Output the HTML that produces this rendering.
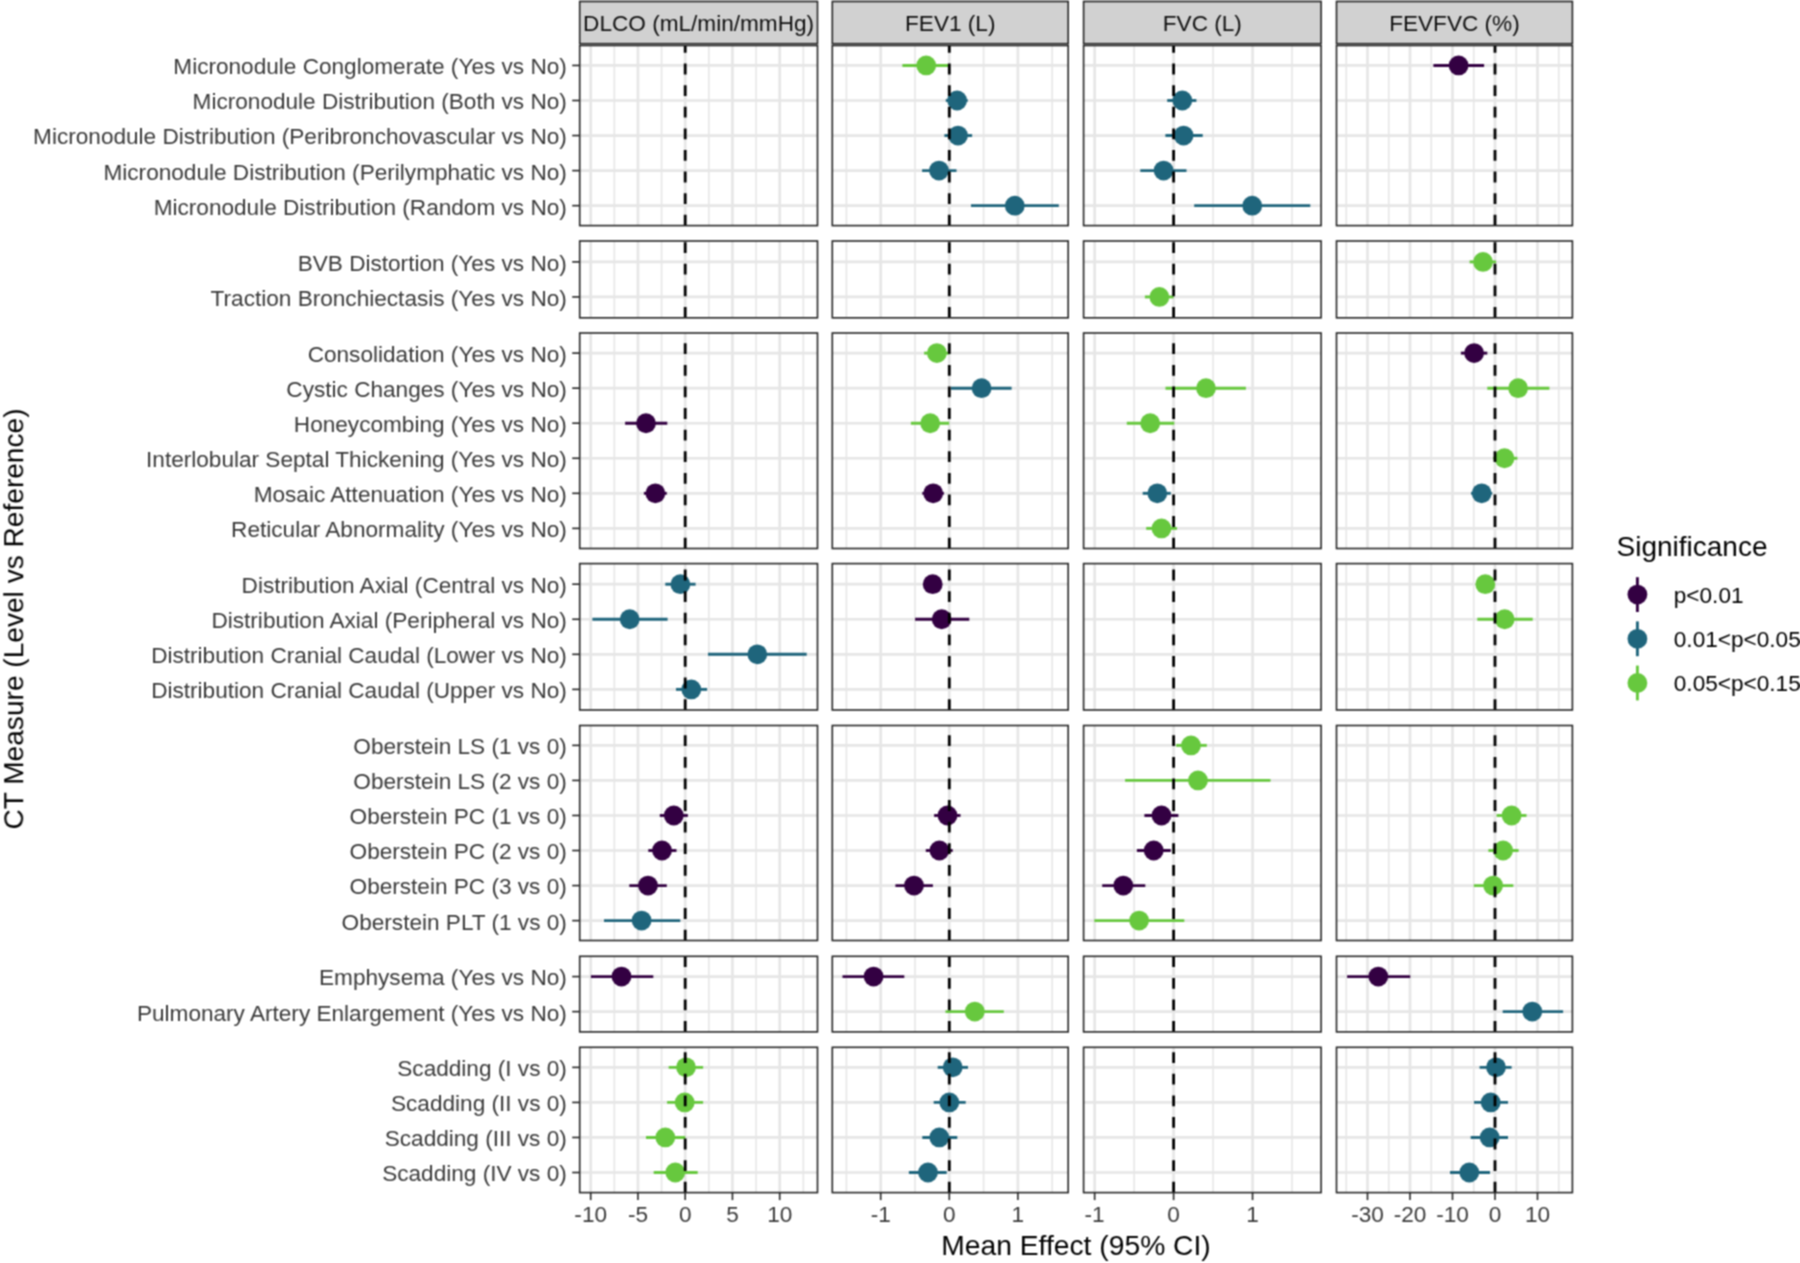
<!DOCTYPE html>
<html><head><meta charset="utf-8"><title>CT Measure forest plot</title>
<style>
html,body{margin:0;padding:0;background:#fff;overflow:hidden;}
svg{display:block;}
text{font-family:"Liberation Sans",Arial,Helvetica,sans-serif;}
</style></head><body>
<div id="plot">
<svg width="1800" height="1263" viewBox="0 0 1800 1263">
<defs><filter id="soft" x="0" y="0" width="1800" height="1263" filterUnits="userSpaceOnUse" color-interpolation-filters="sRGB"><feConvolveMatrix order="3" kernelMatrix="1 2 1 2 4 2 1 2 1" edgeMode="duplicate"/></filter></defs>
<g filter="url(#soft)">
<rect x="0" y="0" width="1800" height="1263" fill="#fff"/>
<rect x="579.7" y="1.5" width="237.8" height="42.2" fill="#d1d1d1" stroke="#262626" stroke-width="1.6"/>
<text x="698.6" y="31.2" font-size="22.6" fill="#0f0f0f" text-anchor="middle">DLCO (mL/min/mmHg)</text>
<rect x="832.3" y="1.5" width="235.9" height="42.2" fill="#d1d1d1" stroke="#262626" stroke-width="1.6"/>
<text x="950.25" y="31.2" font-size="22.6" fill="#0f0f0f" text-anchor="middle">FEV1 (L)</text>
<rect x="1083.6" y="1.5" width="237.5" height="42.2" fill="#d1d1d1" stroke="#262626" stroke-width="1.6"/>
<text x="1202.35" y="31.2" font-size="22.6" fill="#0f0f0f" text-anchor="middle">FVC (L)</text>
<rect x="1336.5" y="1.5" width="235.9" height="42.2" fill="#d1d1d1" stroke="#262626" stroke-width="1.6"/>
<text x="1454.45" y="31.2" font-size="22.6" fill="#0f0f0f" text-anchor="middle">FEVFVC (%)</text>
<rect x="579.7" y="45.5" width="237.8" height="180.1" fill="#fff"/>
<line x1="614.33" y1="45.5" x2="614.33" y2="225.6" stroke="#e6e6e6" stroke-width="1.6"/>
<line x1="661.58" y1="45.5" x2="661.58" y2="225.6" stroke="#e6e6e6" stroke-width="1.6"/>
<line x1="708.83" y1="45.5" x2="708.83" y2="225.6" stroke="#e6e6e6" stroke-width="1.6"/>
<line x1="756.08" y1="45.5" x2="756.08" y2="225.6" stroke="#e6e6e6" stroke-width="1.6"/>
<line x1="803.33" y1="45.5" x2="803.33" y2="225.6" stroke="#e6e6e6" stroke-width="1.6"/>
<line x1="579.7" y1="65.45" x2="817.5" y2="65.45" stroke="#e6e6e6" stroke-width="2.7"/>
<line x1="579.7" y1="100.5" x2="817.5" y2="100.5" stroke="#e6e6e6" stroke-width="2.7"/>
<line x1="579.7" y1="135.55" x2="817.5" y2="135.55" stroke="#e6e6e6" stroke-width="2.7"/>
<line x1="579.7" y1="170.6" x2="817.5" y2="170.6" stroke="#e6e6e6" stroke-width="2.7"/>
<line x1="579.7" y1="205.65" x2="817.5" y2="205.65" stroke="#e6e6e6" stroke-width="2.7"/>
<line x1="590.7" y1="45.5" x2="590.7" y2="225.6" stroke="#e6e6e6" stroke-width="2.7"/>
<line x1="637.95" y1="45.5" x2="637.95" y2="225.6" stroke="#e6e6e6" stroke-width="2.7"/>
<line x1="685.2" y1="45.5" x2="685.2" y2="225.6" stroke="#e6e6e6" stroke-width="2.7"/>
<line x1="732.45" y1="45.5" x2="732.45" y2="225.6" stroke="#e6e6e6" stroke-width="2.7"/>
<line x1="779.7" y1="45.5" x2="779.7" y2="225.6" stroke="#e6e6e6" stroke-width="2.7"/>
<line x1="685.2" y1="225.6" x2="685.2" y2="45.5" stroke="#000" stroke-width="2.8" stroke-dasharray="10.8 10.8"/>
<rect x="579.7" y="45.5" width="237.8" height="180.1" fill="none" stroke="#262626" stroke-width="1.6"/>
<rect x="832.3" y="45.5" width="235.9" height="180.1" fill="#fff"/>
<line x1="846.4" y1="45.5" x2="846.4" y2="225.6" stroke="#e6e6e6" stroke-width="1.6"/>
<line x1="915" y1="45.5" x2="915" y2="225.6" stroke="#e6e6e6" stroke-width="1.6"/>
<line x1="983.6" y1="45.5" x2="983.6" y2="225.6" stroke="#e6e6e6" stroke-width="1.6"/>
<line x1="1052.2" y1="45.5" x2="1052.2" y2="225.6" stroke="#e6e6e6" stroke-width="1.6"/>
<line x1="832.3" y1="65.45" x2="1068.2" y2="65.45" stroke="#e6e6e6" stroke-width="2.7"/>
<line x1="832.3" y1="100.5" x2="1068.2" y2="100.5" stroke="#e6e6e6" stroke-width="2.7"/>
<line x1="832.3" y1="135.55" x2="1068.2" y2="135.55" stroke="#e6e6e6" stroke-width="2.7"/>
<line x1="832.3" y1="170.6" x2="1068.2" y2="170.6" stroke="#e6e6e6" stroke-width="2.7"/>
<line x1="832.3" y1="205.65" x2="1068.2" y2="205.65" stroke="#e6e6e6" stroke-width="2.7"/>
<line x1="880.7" y1="45.5" x2="880.7" y2="225.6" stroke="#e6e6e6" stroke-width="2.7"/>
<line x1="949.3" y1="45.5" x2="949.3" y2="225.6" stroke="#e6e6e6" stroke-width="2.7"/>
<line x1="1017.9" y1="45.5" x2="1017.9" y2="225.6" stroke="#e6e6e6" stroke-width="2.7"/>
<line x1="902.4" y1="65.45" x2="949.5" y2="65.45" stroke="#67c83e" stroke-width="2.9"/>
<line x1="945.8" y1="100.5" x2="967.7" y2="100.5" stroke="#1f657c" stroke-width="2.9"/>
<line x1="944.4" y1="135.55" x2="972.1" y2="135.55" stroke="#1f657c" stroke-width="2.9"/>
<line x1="922.1" y1="170.6" x2="956.5" y2="170.6" stroke="#1f657c" stroke-width="2.9"/>
<line x1="971" y1="205.65" x2="1058.8" y2="205.65" stroke="#1f657c" stroke-width="2.9"/>
<circle cx="926.2" cy="65.45" r="9.9" fill="#67c83e"/>
<circle cx="957.1" cy="100.5" r="9.9" fill="#1f657c"/>
<circle cx="958" cy="135.55" r="9.9" fill="#1f657c"/>
<circle cx="939" cy="170.6" r="9.9" fill="#1f657c"/>
<circle cx="1014.8" cy="205.65" r="9.9" fill="#1f657c"/>
<line x1="949.3" y1="225.6" x2="949.3" y2="45.5" stroke="#000" stroke-width="2.8" stroke-dasharray="10.8 10.8"/>
<rect x="832.3" y="45.5" width="235.9" height="180.1" fill="none" stroke="#262626" stroke-width="1.6"/>
<rect x="1083.6" y="45.5" width="237.5" height="180.1" fill="#fff"/>
<line x1="1134.12" y1="45.5" x2="1134.12" y2="225.6" stroke="#e6e6e6" stroke-width="1.6"/>
<line x1="1213.07" y1="45.5" x2="1213.07" y2="225.6" stroke="#e6e6e6" stroke-width="1.6"/>
<line x1="1292.02" y1="45.5" x2="1292.02" y2="225.6" stroke="#e6e6e6" stroke-width="1.6"/>
<line x1="1083.6" y1="65.45" x2="1321.1" y2="65.45" stroke="#e6e6e6" stroke-width="2.7"/>
<line x1="1083.6" y1="100.5" x2="1321.1" y2="100.5" stroke="#e6e6e6" stroke-width="2.7"/>
<line x1="1083.6" y1="135.55" x2="1321.1" y2="135.55" stroke="#e6e6e6" stroke-width="2.7"/>
<line x1="1083.6" y1="170.6" x2="1321.1" y2="170.6" stroke="#e6e6e6" stroke-width="2.7"/>
<line x1="1083.6" y1="205.65" x2="1321.1" y2="205.65" stroke="#e6e6e6" stroke-width="2.7"/>
<line x1="1094.65" y1="45.5" x2="1094.65" y2="225.6" stroke="#e6e6e6" stroke-width="2.7"/>
<line x1="1173.6" y1="45.5" x2="1173.6" y2="225.6" stroke="#e6e6e6" stroke-width="2.7"/>
<line x1="1252.55" y1="45.5" x2="1252.55" y2="225.6" stroke="#e6e6e6" stroke-width="2.7"/>
<line x1="1167.2" y1="100.5" x2="1196.4" y2="100.5" stroke="#1f657c" stroke-width="2.9"/>
<line x1="1165.4" y1="135.55" x2="1202.7" y2="135.55" stroke="#1f657c" stroke-width="2.9"/>
<line x1="1140.3" y1="170.6" x2="1186.5" y2="170.6" stroke="#1f657c" stroke-width="2.9"/>
<line x1="1194.2" y1="205.65" x2="1310.3" y2="205.65" stroke="#1f657c" stroke-width="2.9"/>
<circle cx="1182.3" cy="100.5" r="9.9" fill="#1f657c"/>
<circle cx="1183.6" cy="135.55" r="9.9" fill="#1f657c"/>
<circle cx="1163.6" cy="170.6" r="9.9" fill="#1f657c"/>
<circle cx="1252.2" cy="205.65" r="9.9" fill="#1f657c"/>
<line x1="1173.6" y1="225.6" x2="1173.6" y2="45.5" stroke="#000" stroke-width="2.8" stroke-dasharray="10.8 10.8"/>
<rect x="1083.6" y="45.5" width="237.5" height="180.1" fill="none" stroke="#262626" stroke-width="1.6"/>
<rect x="1336.5" y="45.5" width="235.9" height="180.1" fill="#fff"/>
<line x1="1346.25" y1="45.5" x2="1346.25" y2="225.6" stroke="#e6e6e6" stroke-width="1.6"/>
<line x1="1388.75" y1="45.5" x2="1388.75" y2="225.6" stroke="#e6e6e6" stroke-width="1.6"/>
<line x1="1431.25" y1="45.5" x2="1431.25" y2="225.6" stroke="#e6e6e6" stroke-width="1.6"/>
<line x1="1473.75" y1="45.5" x2="1473.75" y2="225.6" stroke="#e6e6e6" stroke-width="1.6"/>
<line x1="1516.25" y1="45.5" x2="1516.25" y2="225.6" stroke="#e6e6e6" stroke-width="1.6"/>
<line x1="1558.75" y1="45.5" x2="1558.75" y2="225.6" stroke="#e6e6e6" stroke-width="1.6"/>
<line x1="1336.5" y1="65.45" x2="1572.4" y2="65.45" stroke="#e6e6e6" stroke-width="2.7"/>
<line x1="1336.5" y1="100.5" x2="1572.4" y2="100.5" stroke="#e6e6e6" stroke-width="2.7"/>
<line x1="1336.5" y1="135.55" x2="1572.4" y2="135.55" stroke="#e6e6e6" stroke-width="2.7"/>
<line x1="1336.5" y1="170.6" x2="1572.4" y2="170.6" stroke="#e6e6e6" stroke-width="2.7"/>
<line x1="1336.5" y1="205.65" x2="1572.4" y2="205.65" stroke="#e6e6e6" stroke-width="2.7"/>
<line x1="1367.5" y1="45.5" x2="1367.5" y2="225.6" stroke="#e6e6e6" stroke-width="2.7"/>
<line x1="1410" y1="45.5" x2="1410" y2="225.6" stroke="#e6e6e6" stroke-width="2.7"/>
<line x1="1452.5" y1="45.5" x2="1452.5" y2="225.6" stroke="#e6e6e6" stroke-width="2.7"/>
<line x1="1495" y1="45.5" x2="1495" y2="225.6" stroke="#e6e6e6" stroke-width="2.7"/>
<line x1="1537.5" y1="45.5" x2="1537.5" y2="225.6" stroke="#e6e6e6" stroke-width="2.7"/>
<line x1="1433.4" y1="65.45" x2="1484.1" y2="65.45" stroke="#330042" stroke-width="2.9"/>
<circle cx="1458.6" cy="65.45" r="9.9" fill="#330042"/>
<line x1="1495" y1="225.6" x2="1495" y2="45.5" stroke="#000" stroke-width="2.8" stroke-dasharray="10.8 10.8"/>
<rect x="1336.5" y="45.5" width="235.9" height="180.1" fill="none" stroke="#262626" stroke-width="1.6"/>
<line x1="572.2" y1="65.45" x2="579.7" y2="65.45" stroke="#262626" stroke-width="1.6"/>
<text x="566.8" y="74.35" font-size="22.6" fill="#3a3a3a" text-anchor="end">Micronodule Conglomerate (Yes vs No)</text>
<line x1="572.2" y1="100.5" x2="579.7" y2="100.5" stroke="#262626" stroke-width="1.6"/>
<text x="566.8" y="109.4" font-size="22.6" fill="#3a3a3a" text-anchor="end">Micronodule Distribution (Both vs No)</text>
<line x1="572.2" y1="135.55" x2="579.7" y2="135.55" stroke="#262626" stroke-width="1.6"/>
<text x="566.8" y="144.45" font-size="22.6" fill="#3a3a3a" text-anchor="end">Micronodule Distribution (Peribronchovascular vs No)</text>
<line x1="572.2" y1="170.6" x2="579.7" y2="170.6" stroke="#262626" stroke-width="1.6"/>
<text x="566.8" y="179.5" font-size="22.6" fill="#3a3a3a" text-anchor="end">Micronodule Distribution (Perilymphatic vs No)</text>
<line x1="572.2" y1="205.65" x2="579.7" y2="205.65" stroke="#262626" stroke-width="1.6"/>
<text x="566.8" y="214.55" font-size="22.6" fill="#3a3a3a" text-anchor="end">Micronodule Distribution (Random vs No)</text>
<rect x="579.7" y="241" width="237.8" height="76.8" fill="#fff"/>
<line x1="614.33" y1="241" x2="614.33" y2="317.8" stroke="#e6e6e6" stroke-width="1.6"/>
<line x1="661.58" y1="241" x2="661.58" y2="317.8" stroke="#e6e6e6" stroke-width="1.6"/>
<line x1="708.83" y1="241" x2="708.83" y2="317.8" stroke="#e6e6e6" stroke-width="1.6"/>
<line x1="756.08" y1="241" x2="756.08" y2="317.8" stroke="#e6e6e6" stroke-width="1.6"/>
<line x1="803.33" y1="241" x2="803.33" y2="317.8" stroke="#e6e6e6" stroke-width="1.6"/>
<line x1="579.7" y1="261.88" x2="817.5" y2="261.88" stroke="#e6e6e6" stroke-width="2.7"/>
<line x1="579.7" y1="296.92" x2="817.5" y2="296.92" stroke="#e6e6e6" stroke-width="2.7"/>
<line x1="590.7" y1="241" x2="590.7" y2="317.8" stroke="#e6e6e6" stroke-width="2.7"/>
<line x1="637.95" y1="241" x2="637.95" y2="317.8" stroke="#e6e6e6" stroke-width="2.7"/>
<line x1="685.2" y1="241" x2="685.2" y2="317.8" stroke="#e6e6e6" stroke-width="2.7"/>
<line x1="732.45" y1="241" x2="732.45" y2="317.8" stroke="#e6e6e6" stroke-width="2.7"/>
<line x1="779.7" y1="241" x2="779.7" y2="317.8" stroke="#e6e6e6" stroke-width="2.7"/>
<line x1="685.2" y1="317.8" x2="685.2" y2="241" stroke="#000" stroke-width="2.8" stroke-dasharray="10.8 10.8"/>
<rect x="579.7" y="241" width="237.8" height="76.8" fill="none" stroke="#262626" stroke-width="1.6"/>
<rect x="832.3" y="241" width="235.9" height="76.8" fill="#fff"/>
<line x1="846.4" y1="241" x2="846.4" y2="317.8" stroke="#e6e6e6" stroke-width="1.6"/>
<line x1="915" y1="241" x2="915" y2="317.8" stroke="#e6e6e6" stroke-width="1.6"/>
<line x1="983.6" y1="241" x2="983.6" y2="317.8" stroke="#e6e6e6" stroke-width="1.6"/>
<line x1="1052.2" y1="241" x2="1052.2" y2="317.8" stroke="#e6e6e6" stroke-width="1.6"/>
<line x1="832.3" y1="261.88" x2="1068.2" y2="261.88" stroke="#e6e6e6" stroke-width="2.7"/>
<line x1="832.3" y1="296.92" x2="1068.2" y2="296.92" stroke="#e6e6e6" stroke-width="2.7"/>
<line x1="880.7" y1="241" x2="880.7" y2="317.8" stroke="#e6e6e6" stroke-width="2.7"/>
<line x1="949.3" y1="241" x2="949.3" y2="317.8" stroke="#e6e6e6" stroke-width="2.7"/>
<line x1="1017.9" y1="241" x2="1017.9" y2="317.8" stroke="#e6e6e6" stroke-width="2.7"/>
<line x1="949.3" y1="317.8" x2="949.3" y2="241" stroke="#000" stroke-width="2.8" stroke-dasharray="10.8 10.8"/>
<rect x="832.3" y="241" width="235.9" height="76.8" fill="none" stroke="#262626" stroke-width="1.6"/>
<rect x="1083.6" y="241" width="237.5" height="76.8" fill="#fff"/>
<line x1="1134.12" y1="241" x2="1134.12" y2="317.8" stroke="#e6e6e6" stroke-width="1.6"/>
<line x1="1213.07" y1="241" x2="1213.07" y2="317.8" stroke="#e6e6e6" stroke-width="1.6"/>
<line x1="1292.02" y1="241" x2="1292.02" y2="317.8" stroke="#e6e6e6" stroke-width="1.6"/>
<line x1="1083.6" y1="261.88" x2="1321.1" y2="261.88" stroke="#e6e6e6" stroke-width="2.7"/>
<line x1="1083.6" y1="296.92" x2="1321.1" y2="296.92" stroke="#e6e6e6" stroke-width="2.7"/>
<line x1="1094.65" y1="241" x2="1094.65" y2="317.8" stroke="#e6e6e6" stroke-width="2.7"/>
<line x1="1173.6" y1="241" x2="1173.6" y2="317.8" stroke="#e6e6e6" stroke-width="2.7"/>
<line x1="1252.55" y1="241" x2="1252.55" y2="317.8" stroke="#e6e6e6" stroke-width="2.7"/>
<line x1="1144.9" y1="296.92" x2="1173.6" y2="296.92" stroke="#67c83e" stroke-width="2.9"/>
<circle cx="1159.4" cy="296.92" r="9.9" fill="#67c83e"/>
<line x1="1173.6" y1="317.8" x2="1173.6" y2="241" stroke="#000" stroke-width="2.8" stroke-dasharray="10.8 10.8"/>
<rect x="1083.6" y="241" width="237.5" height="76.8" fill="none" stroke="#262626" stroke-width="1.6"/>
<rect x="1336.5" y="241" width="235.9" height="76.8" fill="#fff"/>
<line x1="1346.25" y1="241" x2="1346.25" y2="317.8" stroke="#e6e6e6" stroke-width="1.6"/>
<line x1="1388.75" y1="241" x2="1388.75" y2="317.8" stroke="#e6e6e6" stroke-width="1.6"/>
<line x1="1431.25" y1="241" x2="1431.25" y2="317.8" stroke="#e6e6e6" stroke-width="1.6"/>
<line x1="1473.75" y1="241" x2="1473.75" y2="317.8" stroke="#e6e6e6" stroke-width="1.6"/>
<line x1="1516.25" y1="241" x2="1516.25" y2="317.8" stroke="#e6e6e6" stroke-width="1.6"/>
<line x1="1558.75" y1="241" x2="1558.75" y2="317.8" stroke="#e6e6e6" stroke-width="1.6"/>
<line x1="1336.5" y1="261.88" x2="1572.4" y2="261.88" stroke="#e6e6e6" stroke-width="2.7"/>
<line x1="1336.5" y1="296.92" x2="1572.4" y2="296.92" stroke="#e6e6e6" stroke-width="2.7"/>
<line x1="1367.5" y1="241" x2="1367.5" y2="317.8" stroke="#e6e6e6" stroke-width="2.7"/>
<line x1="1410" y1="241" x2="1410" y2="317.8" stroke="#e6e6e6" stroke-width="2.7"/>
<line x1="1452.5" y1="241" x2="1452.5" y2="317.8" stroke="#e6e6e6" stroke-width="2.7"/>
<line x1="1495" y1="241" x2="1495" y2="317.8" stroke="#e6e6e6" stroke-width="2.7"/>
<line x1="1537.5" y1="241" x2="1537.5" y2="317.8" stroke="#e6e6e6" stroke-width="2.7"/>
<line x1="1469.6" y1="261.88" x2="1496.1" y2="261.88" stroke="#67c83e" stroke-width="2.9"/>
<circle cx="1483" cy="261.88" r="9.9" fill="#67c83e"/>
<line x1="1495" y1="317.8" x2="1495" y2="241" stroke="#000" stroke-width="2.8" stroke-dasharray="10.8 10.8"/>
<rect x="1336.5" y="241" width="235.9" height="76.8" fill="none" stroke="#262626" stroke-width="1.6"/>
<line x1="572.2" y1="261.88" x2="579.7" y2="261.88" stroke="#262626" stroke-width="1.6"/>
<text x="566.8" y="270.77" font-size="22.6" fill="#3a3a3a" text-anchor="end">BVB Distortion (Yes vs No)</text>
<line x1="572.2" y1="296.92" x2="579.7" y2="296.92" stroke="#262626" stroke-width="1.6"/>
<text x="566.8" y="305.82" font-size="22.6" fill="#3a3a3a" text-anchor="end">Traction Bronchiectasis (Yes vs No)</text>
<rect x="579.7" y="333" width="237.8" height="215.5" fill="#fff"/>
<line x1="614.33" y1="333" x2="614.33" y2="548.5" stroke="#e6e6e6" stroke-width="1.6"/>
<line x1="661.58" y1="333" x2="661.58" y2="548.5" stroke="#e6e6e6" stroke-width="1.6"/>
<line x1="708.83" y1="333" x2="708.83" y2="548.5" stroke="#e6e6e6" stroke-width="1.6"/>
<line x1="756.08" y1="333" x2="756.08" y2="548.5" stroke="#e6e6e6" stroke-width="1.6"/>
<line x1="803.33" y1="333" x2="803.33" y2="548.5" stroke="#e6e6e6" stroke-width="1.6"/>
<line x1="579.7" y1="353.12" x2="817.5" y2="353.12" stroke="#e6e6e6" stroke-width="2.7"/>
<line x1="579.7" y1="388.18" x2="817.5" y2="388.18" stroke="#e6e6e6" stroke-width="2.7"/>
<line x1="579.7" y1="423.23" x2="817.5" y2="423.23" stroke="#e6e6e6" stroke-width="2.7"/>
<line x1="579.7" y1="458.27" x2="817.5" y2="458.27" stroke="#e6e6e6" stroke-width="2.7"/>
<line x1="579.7" y1="493.32" x2="817.5" y2="493.32" stroke="#e6e6e6" stroke-width="2.7"/>
<line x1="579.7" y1="528.38" x2="817.5" y2="528.38" stroke="#e6e6e6" stroke-width="2.7"/>
<line x1="590.7" y1="333" x2="590.7" y2="548.5" stroke="#e6e6e6" stroke-width="2.7"/>
<line x1="637.95" y1="333" x2="637.95" y2="548.5" stroke="#e6e6e6" stroke-width="2.7"/>
<line x1="685.2" y1="333" x2="685.2" y2="548.5" stroke="#e6e6e6" stroke-width="2.7"/>
<line x1="732.45" y1="333" x2="732.45" y2="548.5" stroke="#e6e6e6" stroke-width="2.7"/>
<line x1="779.7" y1="333" x2="779.7" y2="548.5" stroke="#e6e6e6" stroke-width="2.7"/>
<line x1="625.1" y1="423.23" x2="667.3" y2="423.23" stroke="#330042" stroke-width="2.9"/>
<line x1="643.9" y1="493.32" x2="666.8" y2="493.32" stroke="#330042" stroke-width="2.9"/>
<circle cx="646" cy="423.23" r="9.9" fill="#330042"/>
<circle cx="655.4" cy="493.32" r="9.9" fill="#330042"/>
<line x1="685.2" y1="548.5" x2="685.2" y2="333" stroke="#000" stroke-width="2.8" stroke-dasharray="10.8 10.8"/>
<rect x="579.7" y="333" width="237.8" height="215.5" fill="none" stroke="#262626" stroke-width="1.6"/>
<rect x="832.3" y="333" width="235.9" height="215.5" fill="#fff"/>
<line x1="846.4" y1="333" x2="846.4" y2="548.5" stroke="#e6e6e6" stroke-width="1.6"/>
<line x1="915" y1="333" x2="915" y2="548.5" stroke="#e6e6e6" stroke-width="1.6"/>
<line x1="983.6" y1="333" x2="983.6" y2="548.5" stroke="#e6e6e6" stroke-width="1.6"/>
<line x1="1052.2" y1="333" x2="1052.2" y2="548.5" stroke="#e6e6e6" stroke-width="1.6"/>
<line x1="832.3" y1="353.12" x2="1068.2" y2="353.12" stroke="#e6e6e6" stroke-width="2.7"/>
<line x1="832.3" y1="388.18" x2="1068.2" y2="388.18" stroke="#e6e6e6" stroke-width="2.7"/>
<line x1="832.3" y1="423.23" x2="1068.2" y2="423.23" stroke="#e6e6e6" stroke-width="2.7"/>
<line x1="832.3" y1="458.27" x2="1068.2" y2="458.27" stroke="#e6e6e6" stroke-width="2.7"/>
<line x1="832.3" y1="493.32" x2="1068.2" y2="493.32" stroke="#e6e6e6" stroke-width="2.7"/>
<line x1="832.3" y1="528.38" x2="1068.2" y2="528.38" stroke="#e6e6e6" stroke-width="2.7"/>
<line x1="880.7" y1="333" x2="880.7" y2="548.5" stroke="#e6e6e6" stroke-width="2.7"/>
<line x1="949.3" y1="333" x2="949.3" y2="548.5" stroke="#e6e6e6" stroke-width="2.7"/>
<line x1="1017.9" y1="333" x2="1017.9" y2="548.5" stroke="#e6e6e6" stroke-width="2.7"/>
<line x1="924.1" y1="353.12" x2="949.6" y2="353.12" stroke="#67c83e" stroke-width="2.9"/>
<line x1="951" y1="388.18" x2="1011.6" y2="388.18" stroke="#1f657c" stroke-width="2.9"/>
<line x1="910.9" y1="423.23" x2="949.2" y2="423.23" stroke="#67c83e" stroke-width="2.9"/>
<line x1="922.3" y1="493.32" x2="943.9" y2="493.32" stroke="#330042" stroke-width="2.9"/>
<circle cx="936.9" cy="353.12" r="9.9" fill="#67c83e"/>
<circle cx="981.6" cy="388.18" r="9.9" fill="#1f657c"/>
<circle cx="930.2" cy="423.23" r="9.9" fill="#67c83e"/>
<circle cx="933.2" cy="493.32" r="9.9" fill="#330042"/>
<line x1="949.3" y1="548.5" x2="949.3" y2="333" stroke="#000" stroke-width="2.8" stroke-dasharray="10.8 10.8"/>
<rect x="832.3" y="333" width="235.9" height="215.5" fill="none" stroke="#262626" stroke-width="1.6"/>
<rect x="1083.6" y="333" width="237.5" height="215.5" fill="#fff"/>
<line x1="1134.12" y1="333" x2="1134.12" y2="548.5" stroke="#e6e6e6" stroke-width="1.6"/>
<line x1="1213.07" y1="333" x2="1213.07" y2="548.5" stroke="#e6e6e6" stroke-width="1.6"/>
<line x1="1292.02" y1="333" x2="1292.02" y2="548.5" stroke="#e6e6e6" stroke-width="1.6"/>
<line x1="1083.6" y1="353.12" x2="1321.1" y2="353.12" stroke="#e6e6e6" stroke-width="2.7"/>
<line x1="1083.6" y1="388.18" x2="1321.1" y2="388.18" stroke="#e6e6e6" stroke-width="2.7"/>
<line x1="1083.6" y1="423.23" x2="1321.1" y2="423.23" stroke="#e6e6e6" stroke-width="2.7"/>
<line x1="1083.6" y1="458.27" x2="1321.1" y2="458.27" stroke="#e6e6e6" stroke-width="2.7"/>
<line x1="1083.6" y1="493.32" x2="1321.1" y2="493.32" stroke="#e6e6e6" stroke-width="2.7"/>
<line x1="1083.6" y1="528.38" x2="1321.1" y2="528.38" stroke="#e6e6e6" stroke-width="2.7"/>
<line x1="1094.65" y1="333" x2="1094.65" y2="548.5" stroke="#e6e6e6" stroke-width="2.7"/>
<line x1="1173.6" y1="333" x2="1173.6" y2="548.5" stroke="#e6e6e6" stroke-width="2.7"/>
<line x1="1252.55" y1="333" x2="1252.55" y2="548.5" stroke="#e6e6e6" stroke-width="2.7"/>
<line x1="1165.5" y1="388.18" x2="1245.9" y2="388.18" stroke="#67c83e" stroke-width="2.9"/>
<line x1="1126.8" y1="423.23" x2="1174.3" y2="423.23" stroke="#67c83e" stroke-width="2.9"/>
<line x1="1142.7" y1="493.32" x2="1170.8" y2="493.32" stroke="#1f657c" stroke-width="2.9"/>
<line x1="1146.2" y1="528.38" x2="1177" y2="528.38" stroke="#67c83e" stroke-width="2.9"/>
<circle cx="1206" cy="388.18" r="9.9" fill="#67c83e"/>
<circle cx="1150.2" cy="423.23" r="9.9" fill="#67c83e"/>
<circle cx="1157.3" cy="493.32" r="9.9" fill="#1f657c"/>
<circle cx="1161.5" cy="528.38" r="9.9" fill="#67c83e"/>
<line x1="1173.6" y1="548.5" x2="1173.6" y2="333" stroke="#000" stroke-width="2.8" stroke-dasharray="10.8 10.8"/>
<rect x="1083.6" y="333" width="237.5" height="215.5" fill="none" stroke="#262626" stroke-width="1.6"/>
<rect x="1336.5" y="333" width="235.9" height="215.5" fill="#fff"/>
<line x1="1346.25" y1="333" x2="1346.25" y2="548.5" stroke="#e6e6e6" stroke-width="1.6"/>
<line x1="1388.75" y1="333" x2="1388.75" y2="548.5" stroke="#e6e6e6" stroke-width="1.6"/>
<line x1="1431.25" y1="333" x2="1431.25" y2="548.5" stroke="#e6e6e6" stroke-width="1.6"/>
<line x1="1473.75" y1="333" x2="1473.75" y2="548.5" stroke="#e6e6e6" stroke-width="1.6"/>
<line x1="1516.25" y1="333" x2="1516.25" y2="548.5" stroke="#e6e6e6" stroke-width="1.6"/>
<line x1="1558.75" y1="333" x2="1558.75" y2="548.5" stroke="#e6e6e6" stroke-width="1.6"/>
<line x1="1336.5" y1="353.12" x2="1572.4" y2="353.12" stroke="#e6e6e6" stroke-width="2.7"/>
<line x1="1336.5" y1="388.18" x2="1572.4" y2="388.18" stroke="#e6e6e6" stroke-width="2.7"/>
<line x1="1336.5" y1="423.23" x2="1572.4" y2="423.23" stroke="#e6e6e6" stroke-width="2.7"/>
<line x1="1336.5" y1="458.27" x2="1572.4" y2="458.27" stroke="#e6e6e6" stroke-width="2.7"/>
<line x1="1336.5" y1="493.32" x2="1572.4" y2="493.32" stroke="#e6e6e6" stroke-width="2.7"/>
<line x1="1336.5" y1="528.38" x2="1572.4" y2="528.38" stroke="#e6e6e6" stroke-width="2.7"/>
<line x1="1367.5" y1="333" x2="1367.5" y2="548.5" stroke="#e6e6e6" stroke-width="2.7"/>
<line x1="1410" y1="333" x2="1410" y2="548.5" stroke="#e6e6e6" stroke-width="2.7"/>
<line x1="1452.5" y1="333" x2="1452.5" y2="548.5" stroke="#e6e6e6" stroke-width="2.7"/>
<line x1="1495" y1="333" x2="1495" y2="548.5" stroke="#e6e6e6" stroke-width="2.7"/>
<line x1="1537.5" y1="333" x2="1537.5" y2="548.5" stroke="#e6e6e6" stroke-width="2.7"/>
<line x1="1460.9" y1="353.12" x2="1487.3" y2="353.12" stroke="#330042" stroke-width="2.9"/>
<line x1="1487.3" y1="388.18" x2="1549.4" y2="388.18" stroke="#67c83e" stroke-width="2.9"/>
<line x1="1493.1" y1="458.27" x2="1517.4" y2="458.27" stroke="#67c83e" stroke-width="2.9"/>
<line x1="1471.1" y1="493.32" x2="1492.2" y2="493.32" stroke="#1f657c" stroke-width="2.9"/>
<circle cx="1474.1" cy="353.12" r="9.9" fill="#330042"/>
<circle cx="1518.1" cy="388.18" r="9.9" fill="#67c83e"/>
<circle cx="1504.5" cy="458.27" r="9.9" fill="#67c83e"/>
<circle cx="1481.7" cy="493.32" r="9.9" fill="#1f657c"/>
<line x1="1495" y1="548.5" x2="1495" y2="333" stroke="#000" stroke-width="2.8" stroke-dasharray="10.8 10.8"/>
<rect x="1336.5" y="333" width="235.9" height="215.5" fill="none" stroke="#262626" stroke-width="1.6"/>
<line x1="572.2" y1="353.12" x2="579.7" y2="353.12" stroke="#262626" stroke-width="1.6"/>
<text x="566.8" y="362.02" font-size="22.6" fill="#3a3a3a" text-anchor="end">Consolidation (Yes vs No)</text>
<line x1="572.2" y1="388.18" x2="579.7" y2="388.18" stroke="#262626" stroke-width="1.6"/>
<text x="566.8" y="397.07" font-size="22.6" fill="#3a3a3a" text-anchor="end">Cystic Changes (Yes vs No)</text>
<line x1="572.2" y1="423.23" x2="579.7" y2="423.23" stroke="#262626" stroke-width="1.6"/>
<text x="566.8" y="432.12" font-size="22.6" fill="#3a3a3a" text-anchor="end">Honeycombing (Yes vs No)</text>
<line x1="572.2" y1="458.27" x2="579.7" y2="458.27" stroke="#262626" stroke-width="1.6"/>
<text x="566.8" y="467.17" font-size="22.6" fill="#3a3a3a" text-anchor="end">Interlobular Septal Thickening (Yes vs No)</text>
<line x1="572.2" y1="493.32" x2="579.7" y2="493.32" stroke="#262626" stroke-width="1.6"/>
<text x="566.8" y="502.22" font-size="22.6" fill="#3a3a3a" text-anchor="end">Mosaic Attenuation (Yes vs No)</text>
<line x1="572.2" y1="528.38" x2="579.7" y2="528.38" stroke="#262626" stroke-width="1.6"/>
<text x="566.8" y="537.27" font-size="22.6" fill="#3a3a3a" text-anchor="end">Reticular Abnormality (Yes vs No)</text>
<rect x="579.7" y="563.6" width="237.8" height="146.4" fill="#fff"/>
<line x1="614.33" y1="563.6" x2="614.33" y2="710" stroke="#e6e6e6" stroke-width="1.6"/>
<line x1="661.58" y1="563.6" x2="661.58" y2="710" stroke="#e6e6e6" stroke-width="1.6"/>
<line x1="708.83" y1="563.6" x2="708.83" y2="710" stroke="#e6e6e6" stroke-width="1.6"/>
<line x1="756.08" y1="563.6" x2="756.08" y2="710" stroke="#e6e6e6" stroke-width="1.6"/>
<line x1="803.33" y1="563.6" x2="803.33" y2="710" stroke="#e6e6e6" stroke-width="1.6"/>
<line x1="579.7" y1="584.22" x2="817.5" y2="584.22" stroke="#e6e6e6" stroke-width="2.7"/>
<line x1="579.7" y1="619.27" x2="817.5" y2="619.27" stroke="#e6e6e6" stroke-width="2.7"/>
<line x1="579.7" y1="654.32" x2="817.5" y2="654.32" stroke="#e6e6e6" stroke-width="2.7"/>
<line x1="579.7" y1="689.38" x2="817.5" y2="689.38" stroke="#e6e6e6" stroke-width="2.7"/>
<line x1="590.7" y1="563.6" x2="590.7" y2="710" stroke="#e6e6e6" stroke-width="2.7"/>
<line x1="637.95" y1="563.6" x2="637.95" y2="710" stroke="#e6e6e6" stroke-width="2.7"/>
<line x1="685.2" y1="563.6" x2="685.2" y2="710" stroke="#e6e6e6" stroke-width="2.7"/>
<line x1="732.45" y1="563.6" x2="732.45" y2="710" stroke="#e6e6e6" stroke-width="2.7"/>
<line x1="779.7" y1="563.6" x2="779.7" y2="710" stroke="#e6e6e6" stroke-width="2.7"/>
<line x1="665.3" y1="584.22" x2="695.6" y2="584.22" stroke="#1f657c" stroke-width="2.9"/>
<line x1="592.4" y1="619.27" x2="667.6" y2="619.27" stroke="#1f657c" stroke-width="2.9"/>
<line x1="708" y1="654.32" x2="806.7" y2="654.32" stroke="#1f657c" stroke-width="2.9"/>
<line x1="676" y1="689.38" x2="707.1" y2="689.38" stroke="#1f657c" stroke-width="2.9"/>
<circle cx="680.4" cy="584.22" r="9.9" fill="#1f657c"/>
<circle cx="629.7" cy="619.27" r="9.9" fill="#1f657c"/>
<circle cx="757.3" cy="654.32" r="9.9" fill="#1f657c"/>
<circle cx="691.3" cy="689.38" r="9.9" fill="#1f657c"/>
<line x1="685.2" y1="710" x2="685.2" y2="563.6" stroke="#000" stroke-width="2.8" stroke-dasharray="10.8 10.8"/>
<rect x="579.7" y="563.6" width="237.8" height="146.4" fill="none" stroke="#262626" stroke-width="1.6"/>
<rect x="832.3" y="563.6" width="235.9" height="146.4" fill="#fff"/>
<line x1="846.4" y1="563.6" x2="846.4" y2="710" stroke="#e6e6e6" stroke-width="1.6"/>
<line x1="915" y1="563.6" x2="915" y2="710" stroke="#e6e6e6" stroke-width="1.6"/>
<line x1="983.6" y1="563.6" x2="983.6" y2="710" stroke="#e6e6e6" stroke-width="1.6"/>
<line x1="1052.2" y1="563.6" x2="1052.2" y2="710" stroke="#e6e6e6" stroke-width="1.6"/>
<line x1="832.3" y1="584.22" x2="1068.2" y2="584.22" stroke="#e6e6e6" stroke-width="2.7"/>
<line x1="832.3" y1="619.27" x2="1068.2" y2="619.27" stroke="#e6e6e6" stroke-width="2.7"/>
<line x1="832.3" y1="654.32" x2="1068.2" y2="654.32" stroke="#e6e6e6" stroke-width="2.7"/>
<line x1="832.3" y1="689.38" x2="1068.2" y2="689.38" stroke="#e6e6e6" stroke-width="2.7"/>
<line x1="880.7" y1="563.6" x2="880.7" y2="710" stroke="#e6e6e6" stroke-width="2.7"/>
<line x1="949.3" y1="563.6" x2="949.3" y2="710" stroke="#e6e6e6" stroke-width="2.7"/>
<line x1="1017.9" y1="563.6" x2="1017.9" y2="710" stroke="#e6e6e6" stroke-width="2.7"/>
<line x1="925" y1="584.22" x2="940" y2="584.22" stroke="#330042" stroke-width="2.9"/>
<line x1="915.1" y1="619.27" x2="969.3" y2="619.27" stroke="#330042" stroke-width="2.9"/>
<circle cx="932.7" cy="584.22" r="9.9" fill="#330042"/>
<circle cx="941.7" cy="619.27" r="9.9" fill="#330042"/>
<line x1="949.3" y1="710" x2="949.3" y2="563.6" stroke="#000" stroke-width="2.8" stroke-dasharray="10.8 10.8"/>
<rect x="832.3" y="563.6" width="235.9" height="146.4" fill="none" stroke="#262626" stroke-width="1.6"/>
<rect x="1083.6" y="563.6" width="237.5" height="146.4" fill="#fff"/>
<line x1="1134.12" y1="563.6" x2="1134.12" y2="710" stroke="#e6e6e6" stroke-width="1.6"/>
<line x1="1213.07" y1="563.6" x2="1213.07" y2="710" stroke="#e6e6e6" stroke-width="1.6"/>
<line x1="1292.02" y1="563.6" x2="1292.02" y2="710" stroke="#e6e6e6" stroke-width="1.6"/>
<line x1="1083.6" y1="584.22" x2="1321.1" y2="584.22" stroke="#e6e6e6" stroke-width="2.7"/>
<line x1="1083.6" y1="619.27" x2="1321.1" y2="619.27" stroke="#e6e6e6" stroke-width="2.7"/>
<line x1="1083.6" y1="654.32" x2="1321.1" y2="654.32" stroke="#e6e6e6" stroke-width="2.7"/>
<line x1="1083.6" y1="689.38" x2="1321.1" y2="689.38" stroke="#e6e6e6" stroke-width="2.7"/>
<line x1="1094.65" y1="563.6" x2="1094.65" y2="710" stroke="#e6e6e6" stroke-width="2.7"/>
<line x1="1173.6" y1="563.6" x2="1173.6" y2="710" stroke="#e6e6e6" stroke-width="2.7"/>
<line x1="1252.55" y1="563.6" x2="1252.55" y2="710" stroke="#e6e6e6" stroke-width="2.7"/>
<line x1="1173.6" y1="710" x2="1173.6" y2="563.6" stroke="#000" stroke-width="2.8" stroke-dasharray="10.8 10.8"/>
<rect x="1083.6" y="563.6" width="237.5" height="146.4" fill="none" stroke="#262626" stroke-width="1.6"/>
<rect x="1336.5" y="563.6" width="235.9" height="146.4" fill="#fff"/>
<line x1="1346.25" y1="563.6" x2="1346.25" y2="710" stroke="#e6e6e6" stroke-width="1.6"/>
<line x1="1388.75" y1="563.6" x2="1388.75" y2="710" stroke="#e6e6e6" stroke-width="1.6"/>
<line x1="1431.25" y1="563.6" x2="1431.25" y2="710" stroke="#e6e6e6" stroke-width="1.6"/>
<line x1="1473.75" y1="563.6" x2="1473.75" y2="710" stroke="#e6e6e6" stroke-width="1.6"/>
<line x1="1516.25" y1="563.6" x2="1516.25" y2="710" stroke="#e6e6e6" stroke-width="1.6"/>
<line x1="1558.75" y1="563.6" x2="1558.75" y2="710" stroke="#e6e6e6" stroke-width="1.6"/>
<line x1="1336.5" y1="584.22" x2="1572.4" y2="584.22" stroke="#e6e6e6" stroke-width="2.7"/>
<line x1="1336.5" y1="619.27" x2="1572.4" y2="619.27" stroke="#e6e6e6" stroke-width="2.7"/>
<line x1="1336.5" y1="654.32" x2="1572.4" y2="654.32" stroke="#e6e6e6" stroke-width="2.7"/>
<line x1="1336.5" y1="689.38" x2="1572.4" y2="689.38" stroke="#e6e6e6" stroke-width="2.7"/>
<line x1="1367.5" y1="563.6" x2="1367.5" y2="710" stroke="#e6e6e6" stroke-width="2.7"/>
<line x1="1410" y1="563.6" x2="1410" y2="710" stroke="#e6e6e6" stroke-width="2.7"/>
<line x1="1452.5" y1="563.6" x2="1452.5" y2="710" stroke="#e6e6e6" stroke-width="2.7"/>
<line x1="1495" y1="563.6" x2="1495" y2="710" stroke="#e6e6e6" stroke-width="2.7"/>
<line x1="1537.5" y1="563.6" x2="1537.5" y2="710" stroke="#e6e6e6" stroke-width="2.7"/>
<line x1="1476" y1="584.22" x2="1494.5" y2="584.22" stroke="#67c83e" stroke-width="2.9"/>
<line x1="1477.3" y1="619.27" x2="1532.7" y2="619.27" stroke="#67c83e" stroke-width="2.9"/>
<circle cx="1485.3" cy="584.22" r="9.9" fill="#67c83e"/>
<circle cx="1504.7" cy="619.27" r="9.9" fill="#67c83e"/>
<line x1="1495" y1="710" x2="1495" y2="563.6" stroke="#000" stroke-width="2.8" stroke-dasharray="10.8 10.8"/>
<rect x="1336.5" y="563.6" width="235.9" height="146.4" fill="none" stroke="#262626" stroke-width="1.6"/>
<line x1="572.2" y1="584.22" x2="579.7" y2="584.22" stroke="#262626" stroke-width="1.6"/>
<text x="566.8" y="593.12" font-size="22.6" fill="#3a3a3a" text-anchor="end">Distribution Axial (Central vs No)</text>
<line x1="572.2" y1="619.27" x2="579.7" y2="619.27" stroke="#262626" stroke-width="1.6"/>
<text x="566.8" y="628.17" font-size="22.6" fill="#3a3a3a" text-anchor="end">Distribution Axial (Peripheral vs No)</text>
<line x1="572.2" y1="654.32" x2="579.7" y2="654.32" stroke="#262626" stroke-width="1.6"/>
<text x="566.8" y="663.22" font-size="22.6" fill="#3a3a3a" text-anchor="end">Distribution Cranial Caudal (Lower vs No)</text>
<line x1="572.2" y1="689.38" x2="579.7" y2="689.38" stroke="#262626" stroke-width="1.6"/>
<text x="566.8" y="698.27" font-size="22.6" fill="#3a3a3a" text-anchor="end">Distribution Cranial Caudal (Upper vs No)</text>
<rect x="579.7" y="725.5" width="237.8" height="215" fill="#fff"/>
<line x1="614.33" y1="725.5" x2="614.33" y2="940.5" stroke="#e6e6e6" stroke-width="1.6"/>
<line x1="661.58" y1="725.5" x2="661.58" y2="940.5" stroke="#e6e6e6" stroke-width="1.6"/>
<line x1="708.83" y1="725.5" x2="708.83" y2="940.5" stroke="#e6e6e6" stroke-width="1.6"/>
<line x1="756.08" y1="725.5" x2="756.08" y2="940.5" stroke="#e6e6e6" stroke-width="1.6"/>
<line x1="803.33" y1="725.5" x2="803.33" y2="940.5" stroke="#e6e6e6" stroke-width="1.6"/>
<line x1="579.7" y1="745.38" x2="817.5" y2="745.38" stroke="#e6e6e6" stroke-width="2.7"/>
<line x1="579.7" y1="780.42" x2="817.5" y2="780.42" stroke="#e6e6e6" stroke-width="2.7"/>
<line x1="579.7" y1="815.48" x2="817.5" y2="815.48" stroke="#e6e6e6" stroke-width="2.7"/>
<line x1="579.7" y1="850.52" x2="817.5" y2="850.52" stroke="#e6e6e6" stroke-width="2.7"/>
<line x1="579.7" y1="885.58" x2="817.5" y2="885.58" stroke="#e6e6e6" stroke-width="2.7"/>
<line x1="579.7" y1="920.62" x2="817.5" y2="920.62" stroke="#e6e6e6" stroke-width="2.7"/>
<line x1="590.7" y1="725.5" x2="590.7" y2="940.5" stroke="#e6e6e6" stroke-width="2.7"/>
<line x1="637.95" y1="725.5" x2="637.95" y2="940.5" stroke="#e6e6e6" stroke-width="2.7"/>
<line x1="685.2" y1="725.5" x2="685.2" y2="940.5" stroke="#e6e6e6" stroke-width="2.7"/>
<line x1="732.45" y1="725.5" x2="732.45" y2="940.5" stroke="#e6e6e6" stroke-width="2.7"/>
<line x1="779.7" y1="725.5" x2="779.7" y2="940.5" stroke="#e6e6e6" stroke-width="2.7"/>
<line x1="659.8" y1="815.48" x2="687.9" y2="815.48" stroke="#330042" stroke-width="2.9"/>
<line x1="648.3" y1="850.52" x2="676.5" y2="850.52" stroke="#330042" stroke-width="2.9"/>
<line x1="629.3" y1="885.58" x2="666.8" y2="885.58" stroke="#330042" stroke-width="2.9"/>
<line x1="604" y1="920.62" x2="680.3" y2="920.62" stroke="#1f657c" stroke-width="2.9"/>
<circle cx="673.8" cy="815.48" r="9.9" fill="#330042"/>
<circle cx="662" cy="850.52" r="9.9" fill="#330042"/>
<circle cx="648" cy="885.58" r="9.9" fill="#330042"/>
<circle cx="641.6" cy="920.62" r="9.9" fill="#1f657c"/>
<line x1="685.2" y1="940.5" x2="685.2" y2="725.5" stroke="#000" stroke-width="2.8" stroke-dasharray="10.8 10.8"/>
<rect x="579.7" y="725.5" width="237.8" height="215" fill="none" stroke="#262626" stroke-width="1.6"/>
<rect x="832.3" y="725.5" width="235.9" height="215" fill="#fff"/>
<line x1="846.4" y1="725.5" x2="846.4" y2="940.5" stroke="#e6e6e6" stroke-width="1.6"/>
<line x1="915" y1="725.5" x2="915" y2="940.5" stroke="#e6e6e6" stroke-width="1.6"/>
<line x1="983.6" y1="725.5" x2="983.6" y2="940.5" stroke="#e6e6e6" stroke-width="1.6"/>
<line x1="1052.2" y1="725.5" x2="1052.2" y2="940.5" stroke="#e6e6e6" stroke-width="1.6"/>
<line x1="832.3" y1="745.38" x2="1068.2" y2="745.38" stroke="#e6e6e6" stroke-width="2.7"/>
<line x1="832.3" y1="780.42" x2="1068.2" y2="780.42" stroke="#e6e6e6" stroke-width="2.7"/>
<line x1="832.3" y1="815.48" x2="1068.2" y2="815.48" stroke="#e6e6e6" stroke-width="2.7"/>
<line x1="832.3" y1="850.52" x2="1068.2" y2="850.52" stroke="#e6e6e6" stroke-width="2.7"/>
<line x1="832.3" y1="885.58" x2="1068.2" y2="885.58" stroke="#e6e6e6" stroke-width="2.7"/>
<line x1="832.3" y1="920.62" x2="1068.2" y2="920.62" stroke="#e6e6e6" stroke-width="2.7"/>
<line x1="880.7" y1="725.5" x2="880.7" y2="940.5" stroke="#e6e6e6" stroke-width="2.7"/>
<line x1="949.3" y1="725.5" x2="949.3" y2="940.5" stroke="#e6e6e6" stroke-width="2.7"/>
<line x1="1017.9" y1="725.5" x2="1017.9" y2="940.5" stroke="#e6e6e6" stroke-width="2.7"/>
<line x1="934.1" y1="815.48" x2="960.5" y2="815.48" stroke="#330042" stroke-width="2.9"/>
<line x1="925.8" y1="850.52" x2="952.7" y2="850.52" stroke="#330042" stroke-width="2.9"/>
<line x1="895.4" y1="885.58" x2="932.9" y2="885.58" stroke="#330042" stroke-width="2.9"/>
<circle cx="947.5" cy="815.48" r="9.9" fill="#330042"/>
<circle cx="939.4" cy="850.52" r="9.9" fill="#330042"/>
<circle cx="914" cy="885.58" r="9.9" fill="#330042"/>
<line x1="949.3" y1="940.5" x2="949.3" y2="725.5" stroke="#000" stroke-width="2.8" stroke-dasharray="10.8 10.8"/>
<rect x="832.3" y="725.5" width="235.9" height="215" fill="none" stroke="#262626" stroke-width="1.6"/>
<rect x="1083.6" y="725.5" width="237.5" height="215" fill="#fff"/>
<line x1="1134.12" y1="725.5" x2="1134.12" y2="940.5" stroke="#e6e6e6" stroke-width="1.6"/>
<line x1="1213.07" y1="725.5" x2="1213.07" y2="940.5" stroke="#e6e6e6" stroke-width="1.6"/>
<line x1="1292.02" y1="725.5" x2="1292.02" y2="940.5" stroke="#e6e6e6" stroke-width="1.6"/>
<line x1="1083.6" y1="745.38" x2="1321.1" y2="745.38" stroke="#e6e6e6" stroke-width="2.7"/>
<line x1="1083.6" y1="780.42" x2="1321.1" y2="780.42" stroke="#e6e6e6" stroke-width="2.7"/>
<line x1="1083.6" y1="815.48" x2="1321.1" y2="815.48" stroke="#e6e6e6" stroke-width="2.7"/>
<line x1="1083.6" y1="850.52" x2="1321.1" y2="850.52" stroke="#e6e6e6" stroke-width="2.7"/>
<line x1="1083.6" y1="885.58" x2="1321.1" y2="885.58" stroke="#e6e6e6" stroke-width="2.7"/>
<line x1="1083.6" y1="920.62" x2="1321.1" y2="920.62" stroke="#e6e6e6" stroke-width="2.7"/>
<line x1="1094.65" y1="725.5" x2="1094.65" y2="940.5" stroke="#e6e6e6" stroke-width="2.7"/>
<line x1="1173.6" y1="725.5" x2="1173.6" y2="940.5" stroke="#e6e6e6" stroke-width="2.7"/>
<line x1="1252.55" y1="725.5" x2="1252.55" y2="940.5" stroke="#e6e6e6" stroke-width="2.7"/>
<line x1="1176.1" y1="745.38" x2="1206.8" y2="745.38" stroke="#67c83e" stroke-width="2.9"/>
<line x1="1125.1" y1="780.42" x2="1270.5" y2="780.42" stroke="#67c83e" stroke-width="2.9"/>
<line x1="1144.4" y1="815.48" x2="1178.4" y2="815.48" stroke="#330042" stroke-width="2.9"/>
<line x1="1136.9" y1="850.52" x2="1170.8" y2="850.52" stroke="#330042" stroke-width="2.9"/>
<line x1="1102.2" y1="885.58" x2="1145.3" y2="885.58" stroke="#330042" stroke-width="2.9"/>
<line x1="1094.3" y1="920.62" x2="1184.3" y2="920.62" stroke="#67c83e" stroke-width="2.9"/>
<circle cx="1191" cy="745.38" r="9.9" fill="#67c83e"/>
<circle cx="1198" cy="780.42" r="9.9" fill="#67c83e"/>
<circle cx="1161.5" cy="815.48" r="9.9" fill="#330042"/>
<circle cx="1153.7" cy="850.52" r="9.9" fill="#330042"/>
<circle cx="1123.3" cy="885.58" r="9.9" fill="#330042"/>
<circle cx="1139.1" cy="920.62" r="9.9" fill="#67c83e"/>
<line x1="1173.6" y1="940.5" x2="1173.6" y2="725.5" stroke="#000" stroke-width="2.8" stroke-dasharray="10.8 10.8"/>
<rect x="1083.6" y="725.5" width="237.5" height="215" fill="none" stroke="#262626" stroke-width="1.6"/>
<rect x="1336.5" y="725.5" width="235.9" height="215" fill="#fff"/>
<line x1="1346.25" y1="725.5" x2="1346.25" y2="940.5" stroke="#e6e6e6" stroke-width="1.6"/>
<line x1="1388.75" y1="725.5" x2="1388.75" y2="940.5" stroke="#e6e6e6" stroke-width="1.6"/>
<line x1="1431.25" y1="725.5" x2="1431.25" y2="940.5" stroke="#e6e6e6" stroke-width="1.6"/>
<line x1="1473.75" y1="725.5" x2="1473.75" y2="940.5" stroke="#e6e6e6" stroke-width="1.6"/>
<line x1="1516.25" y1="725.5" x2="1516.25" y2="940.5" stroke="#e6e6e6" stroke-width="1.6"/>
<line x1="1558.75" y1="725.5" x2="1558.75" y2="940.5" stroke="#e6e6e6" stroke-width="1.6"/>
<line x1="1336.5" y1="745.38" x2="1572.4" y2="745.38" stroke="#e6e6e6" stroke-width="2.7"/>
<line x1="1336.5" y1="780.42" x2="1572.4" y2="780.42" stroke="#e6e6e6" stroke-width="2.7"/>
<line x1="1336.5" y1="815.48" x2="1572.4" y2="815.48" stroke="#e6e6e6" stroke-width="2.7"/>
<line x1="1336.5" y1="850.52" x2="1572.4" y2="850.52" stroke="#e6e6e6" stroke-width="2.7"/>
<line x1="1336.5" y1="885.58" x2="1572.4" y2="885.58" stroke="#e6e6e6" stroke-width="2.7"/>
<line x1="1336.5" y1="920.62" x2="1572.4" y2="920.62" stroke="#e6e6e6" stroke-width="2.7"/>
<line x1="1367.5" y1="725.5" x2="1367.5" y2="940.5" stroke="#e6e6e6" stroke-width="2.7"/>
<line x1="1410" y1="725.5" x2="1410" y2="940.5" stroke="#e6e6e6" stroke-width="2.7"/>
<line x1="1452.5" y1="725.5" x2="1452.5" y2="940.5" stroke="#e6e6e6" stroke-width="2.7"/>
<line x1="1495" y1="725.5" x2="1495" y2="940.5" stroke="#e6e6e6" stroke-width="2.7"/>
<line x1="1537.5" y1="725.5" x2="1537.5" y2="940.5" stroke="#e6e6e6" stroke-width="2.7"/>
<line x1="1496.6" y1="815.48" x2="1526.5" y2="815.48" stroke="#67c83e" stroke-width="2.9"/>
<line x1="1488.4" y1="850.52" x2="1518.6" y2="850.52" stroke="#67c83e" stroke-width="2.9"/>
<line x1="1473.8" y1="885.58" x2="1513.3" y2="885.58" stroke="#67c83e" stroke-width="2.9"/>
<circle cx="1511.6" cy="815.48" r="9.9" fill="#67c83e"/>
<circle cx="1503.1" cy="850.52" r="9.9" fill="#67c83e"/>
<circle cx="1493.1" cy="885.58" r="9.9" fill="#67c83e"/>
<line x1="1495" y1="940.5" x2="1495" y2="725.5" stroke="#000" stroke-width="2.8" stroke-dasharray="10.8 10.8"/>
<rect x="1336.5" y="725.5" width="235.9" height="215" fill="none" stroke="#262626" stroke-width="1.6"/>
<line x1="572.2" y1="745.38" x2="579.7" y2="745.38" stroke="#262626" stroke-width="1.6"/>
<text x="566.8" y="754.27" font-size="22.6" fill="#3a3a3a" text-anchor="end">Oberstein LS (1 vs 0)</text>
<line x1="572.2" y1="780.42" x2="579.7" y2="780.42" stroke="#262626" stroke-width="1.6"/>
<text x="566.8" y="789.32" font-size="22.6" fill="#3a3a3a" text-anchor="end">Oberstein LS (2 vs 0)</text>
<line x1="572.2" y1="815.48" x2="579.7" y2="815.48" stroke="#262626" stroke-width="1.6"/>
<text x="566.8" y="824.38" font-size="22.6" fill="#3a3a3a" text-anchor="end">Oberstein PC (1 vs 0)</text>
<line x1="572.2" y1="850.52" x2="579.7" y2="850.52" stroke="#262626" stroke-width="1.6"/>
<text x="566.8" y="859.42" font-size="22.6" fill="#3a3a3a" text-anchor="end">Oberstein PC (2 vs 0)</text>
<line x1="572.2" y1="885.58" x2="579.7" y2="885.58" stroke="#262626" stroke-width="1.6"/>
<text x="566.8" y="894.48" font-size="22.6" fill="#3a3a3a" text-anchor="end">Oberstein PC (3 vs 0)</text>
<line x1="572.2" y1="920.62" x2="579.7" y2="920.62" stroke="#262626" stroke-width="1.6"/>
<text x="566.8" y="929.52" font-size="22.6" fill="#3a3a3a" text-anchor="end">Oberstein PLT (1 vs 0)</text>
<rect x="579.7" y="956.3" width="237.8" height="75.6" fill="#fff"/>
<line x1="614.33" y1="956.3" x2="614.33" y2="1031.9" stroke="#e6e6e6" stroke-width="1.6"/>
<line x1="661.58" y1="956.3" x2="661.58" y2="1031.9" stroke="#e6e6e6" stroke-width="1.6"/>
<line x1="708.83" y1="956.3" x2="708.83" y2="1031.9" stroke="#e6e6e6" stroke-width="1.6"/>
<line x1="756.08" y1="956.3" x2="756.08" y2="1031.9" stroke="#e6e6e6" stroke-width="1.6"/>
<line x1="803.33" y1="956.3" x2="803.33" y2="1031.9" stroke="#e6e6e6" stroke-width="1.6"/>
<line x1="579.7" y1="976.58" x2="817.5" y2="976.58" stroke="#e6e6e6" stroke-width="2.7"/>
<line x1="579.7" y1="1011.62" x2="817.5" y2="1011.62" stroke="#e6e6e6" stroke-width="2.7"/>
<line x1="590.7" y1="956.3" x2="590.7" y2="1031.9" stroke="#e6e6e6" stroke-width="2.7"/>
<line x1="637.95" y1="956.3" x2="637.95" y2="1031.9" stroke="#e6e6e6" stroke-width="2.7"/>
<line x1="685.2" y1="956.3" x2="685.2" y2="1031.9" stroke="#e6e6e6" stroke-width="2.7"/>
<line x1="732.45" y1="956.3" x2="732.45" y2="1031.9" stroke="#e6e6e6" stroke-width="2.7"/>
<line x1="779.7" y1="956.3" x2="779.7" y2="1031.9" stroke="#e6e6e6" stroke-width="2.7"/>
<line x1="590.9" y1="976.58" x2="653.3" y2="976.58" stroke="#330042" stroke-width="2.9"/>
<circle cx="621.5" cy="976.58" r="9.9" fill="#330042"/>
<line x1="685.2" y1="1031.9" x2="685.2" y2="956.3" stroke="#000" stroke-width="2.8" stroke-dasharray="10.8 10.8"/>
<rect x="579.7" y="956.3" width="237.8" height="75.6" fill="none" stroke="#262626" stroke-width="1.6"/>
<rect x="832.3" y="956.3" width="235.9" height="75.6" fill="#fff"/>
<line x1="846.4" y1="956.3" x2="846.4" y2="1031.9" stroke="#e6e6e6" stroke-width="1.6"/>
<line x1="915" y1="956.3" x2="915" y2="1031.9" stroke="#e6e6e6" stroke-width="1.6"/>
<line x1="983.6" y1="956.3" x2="983.6" y2="1031.9" stroke="#e6e6e6" stroke-width="1.6"/>
<line x1="1052.2" y1="956.3" x2="1052.2" y2="1031.9" stroke="#e6e6e6" stroke-width="1.6"/>
<line x1="832.3" y1="976.58" x2="1068.2" y2="976.58" stroke="#e6e6e6" stroke-width="2.7"/>
<line x1="832.3" y1="1011.62" x2="1068.2" y2="1011.62" stroke="#e6e6e6" stroke-width="2.7"/>
<line x1="880.7" y1="956.3" x2="880.7" y2="1031.9" stroke="#e6e6e6" stroke-width="2.7"/>
<line x1="949.3" y1="956.3" x2="949.3" y2="1031.9" stroke="#e6e6e6" stroke-width="2.7"/>
<line x1="1017.9" y1="956.3" x2="1017.9" y2="1031.9" stroke="#e6e6e6" stroke-width="2.7"/>
<line x1="842.5" y1="976.58" x2="904.3" y2="976.58" stroke="#330042" stroke-width="2.9"/>
<line x1="945.5" y1="1011.62" x2="1003.8" y2="1011.62" stroke="#67c83e" stroke-width="2.9"/>
<circle cx="873.6" cy="976.58" r="9.9" fill="#330042"/>
<circle cx="974.8" cy="1011.62" r="9.9" fill="#67c83e"/>
<line x1="949.3" y1="1031.9" x2="949.3" y2="956.3" stroke="#000" stroke-width="2.8" stroke-dasharray="10.8 10.8"/>
<rect x="832.3" y="956.3" width="235.9" height="75.6" fill="none" stroke="#262626" stroke-width="1.6"/>
<rect x="1083.6" y="956.3" width="237.5" height="75.6" fill="#fff"/>
<line x1="1134.12" y1="956.3" x2="1134.12" y2="1031.9" stroke="#e6e6e6" stroke-width="1.6"/>
<line x1="1213.07" y1="956.3" x2="1213.07" y2="1031.9" stroke="#e6e6e6" stroke-width="1.6"/>
<line x1="1292.02" y1="956.3" x2="1292.02" y2="1031.9" stroke="#e6e6e6" stroke-width="1.6"/>
<line x1="1083.6" y1="976.58" x2="1321.1" y2="976.58" stroke="#e6e6e6" stroke-width="2.7"/>
<line x1="1083.6" y1="1011.62" x2="1321.1" y2="1011.62" stroke="#e6e6e6" stroke-width="2.7"/>
<line x1="1094.65" y1="956.3" x2="1094.65" y2="1031.9" stroke="#e6e6e6" stroke-width="2.7"/>
<line x1="1173.6" y1="956.3" x2="1173.6" y2="1031.9" stroke="#e6e6e6" stroke-width="2.7"/>
<line x1="1252.55" y1="956.3" x2="1252.55" y2="1031.9" stroke="#e6e6e6" stroke-width="2.7"/>
<line x1="1173.6" y1="1031.9" x2="1173.6" y2="956.3" stroke="#000" stroke-width="2.8" stroke-dasharray="10.8 10.8"/>
<rect x="1083.6" y="956.3" width="237.5" height="75.6" fill="none" stroke="#262626" stroke-width="1.6"/>
<rect x="1336.5" y="956.3" width="235.9" height="75.6" fill="#fff"/>
<line x1="1346.25" y1="956.3" x2="1346.25" y2="1031.9" stroke="#e6e6e6" stroke-width="1.6"/>
<line x1="1388.75" y1="956.3" x2="1388.75" y2="1031.9" stroke="#e6e6e6" stroke-width="1.6"/>
<line x1="1431.25" y1="956.3" x2="1431.25" y2="1031.9" stroke="#e6e6e6" stroke-width="1.6"/>
<line x1="1473.75" y1="956.3" x2="1473.75" y2="1031.9" stroke="#e6e6e6" stroke-width="1.6"/>
<line x1="1516.25" y1="956.3" x2="1516.25" y2="1031.9" stroke="#e6e6e6" stroke-width="1.6"/>
<line x1="1558.75" y1="956.3" x2="1558.75" y2="1031.9" stroke="#e6e6e6" stroke-width="1.6"/>
<line x1="1336.5" y1="976.58" x2="1572.4" y2="976.58" stroke="#e6e6e6" stroke-width="2.7"/>
<line x1="1336.5" y1="1011.62" x2="1572.4" y2="1011.62" stroke="#e6e6e6" stroke-width="2.7"/>
<line x1="1367.5" y1="956.3" x2="1367.5" y2="1031.9" stroke="#e6e6e6" stroke-width="2.7"/>
<line x1="1410" y1="956.3" x2="1410" y2="1031.9" stroke="#e6e6e6" stroke-width="2.7"/>
<line x1="1452.5" y1="956.3" x2="1452.5" y2="1031.9" stroke="#e6e6e6" stroke-width="2.7"/>
<line x1="1495" y1="956.3" x2="1495" y2="1031.9" stroke="#e6e6e6" stroke-width="2.7"/>
<line x1="1537.5" y1="956.3" x2="1537.5" y2="1031.9" stroke="#e6e6e6" stroke-width="2.7"/>
<line x1="1347.1" y1="976.58" x2="1410.3" y2="976.58" stroke="#330042" stroke-width="2.9"/>
<line x1="1502.7" y1="1011.62" x2="1563.1" y2="1011.62" stroke="#1f657c" stroke-width="2.9"/>
<circle cx="1378.3" cy="976.58" r="9.9" fill="#330042"/>
<circle cx="1532.3" cy="1011.62" r="9.9" fill="#1f657c"/>
<line x1="1495" y1="1031.9" x2="1495" y2="956.3" stroke="#000" stroke-width="2.8" stroke-dasharray="10.8 10.8"/>
<rect x="1336.5" y="956.3" width="235.9" height="75.6" fill="none" stroke="#262626" stroke-width="1.6"/>
<line x1="572.2" y1="976.58" x2="579.7" y2="976.58" stroke="#262626" stroke-width="1.6"/>
<text x="566.8" y="985.48" font-size="22.6" fill="#3a3a3a" text-anchor="end">Emphysema (Yes vs No)</text>
<line x1="572.2" y1="1011.62" x2="579.7" y2="1011.62" stroke="#262626" stroke-width="1.6"/>
<text x="566.8" y="1020.52" font-size="22.6" fill="#3a3a3a" text-anchor="end">Pulmonary Artery Enlargement (Yes vs No)</text>
<rect x="579.7" y="1047.3" width="237.8" height="145.3" fill="#fff"/>
<line x1="614.33" y1="1047.3" x2="614.33" y2="1192.6" stroke="#e6e6e6" stroke-width="1.6"/>
<line x1="661.58" y1="1047.3" x2="661.58" y2="1192.6" stroke="#e6e6e6" stroke-width="1.6"/>
<line x1="708.83" y1="1047.3" x2="708.83" y2="1192.6" stroke="#e6e6e6" stroke-width="1.6"/>
<line x1="756.08" y1="1047.3" x2="756.08" y2="1192.6" stroke="#e6e6e6" stroke-width="1.6"/>
<line x1="803.33" y1="1047.3" x2="803.33" y2="1192.6" stroke="#e6e6e6" stroke-width="1.6"/>
<line x1="579.7" y1="1067.37" x2="817.5" y2="1067.37" stroke="#e6e6e6" stroke-width="2.7"/>
<line x1="579.7" y1="1102.42" x2="817.5" y2="1102.42" stroke="#e6e6e6" stroke-width="2.7"/>
<line x1="579.7" y1="1137.47" x2="817.5" y2="1137.47" stroke="#e6e6e6" stroke-width="2.7"/>
<line x1="579.7" y1="1172.52" x2="817.5" y2="1172.52" stroke="#e6e6e6" stroke-width="2.7"/>
<line x1="590.7" y1="1047.3" x2="590.7" y2="1192.6" stroke="#e6e6e6" stroke-width="2.7"/>
<line x1="637.95" y1="1047.3" x2="637.95" y2="1192.6" stroke="#e6e6e6" stroke-width="2.7"/>
<line x1="685.2" y1="1047.3" x2="685.2" y2="1192.6" stroke="#e6e6e6" stroke-width="2.7"/>
<line x1="732.45" y1="1047.3" x2="732.45" y2="1192.6" stroke="#e6e6e6" stroke-width="2.7"/>
<line x1="779.7" y1="1047.3" x2="779.7" y2="1192.6" stroke="#e6e6e6" stroke-width="2.7"/>
<line x1="668.7" y1="1067.37" x2="703.1" y2="1067.37" stroke="#67c83e" stroke-width="2.9"/>
<line x1="667.1" y1="1102.42" x2="703.1" y2="1102.42" stroke="#67c83e" stroke-width="2.9"/>
<line x1="646" y1="1137.47" x2="685.3" y2="1137.47" stroke="#67c83e" stroke-width="2.9"/>
<line x1="653.7" y1="1172.52" x2="697.7" y2="1172.52" stroke="#67c83e" stroke-width="2.9"/>
<circle cx="686" cy="1067.37" r="9.9" fill="#67c83e"/>
<circle cx="684.7" cy="1102.42" r="9.9" fill="#67c83e"/>
<circle cx="665.3" cy="1137.47" r="9.9" fill="#67c83e"/>
<circle cx="675.3" cy="1172.52" r="9.9" fill="#67c83e"/>
<line x1="685.2" y1="1192.6" x2="685.2" y2="1047.3" stroke="#000" stroke-width="2.8" stroke-dasharray="10.8 10.8"/>
<rect x="579.7" y="1047.3" width="237.8" height="145.3" fill="none" stroke="#262626" stroke-width="1.6"/>
<rect x="832.3" y="1047.3" width="235.9" height="145.3" fill="#fff"/>
<line x1="846.4" y1="1047.3" x2="846.4" y2="1192.6" stroke="#e6e6e6" stroke-width="1.6"/>
<line x1="915" y1="1047.3" x2="915" y2="1192.6" stroke="#e6e6e6" stroke-width="1.6"/>
<line x1="983.6" y1="1047.3" x2="983.6" y2="1192.6" stroke="#e6e6e6" stroke-width="1.6"/>
<line x1="1052.2" y1="1047.3" x2="1052.2" y2="1192.6" stroke="#e6e6e6" stroke-width="1.6"/>
<line x1="832.3" y1="1067.37" x2="1068.2" y2="1067.37" stroke="#e6e6e6" stroke-width="2.7"/>
<line x1="832.3" y1="1102.42" x2="1068.2" y2="1102.42" stroke="#e6e6e6" stroke-width="2.7"/>
<line x1="832.3" y1="1137.47" x2="1068.2" y2="1137.47" stroke="#e6e6e6" stroke-width="2.7"/>
<line x1="832.3" y1="1172.52" x2="1068.2" y2="1172.52" stroke="#e6e6e6" stroke-width="2.7"/>
<line x1="880.7" y1="1047.3" x2="880.7" y2="1192.6" stroke="#e6e6e6" stroke-width="2.7"/>
<line x1="949.3" y1="1047.3" x2="949.3" y2="1192.6" stroke="#e6e6e6" stroke-width="2.7"/>
<line x1="1017.9" y1="1047.3" x2="1017.9" y2="1192.6" stroke="#e6e6e6" stroke-width="2.7"/>
<line x1="937.7" y1="1067.37" x2="968" y2="1067.37" stroke="#1f657c" stroke-width="2.9"/>
<line x1="933.7" y1="1102.42" x2="965.7" y2="1102.42" stroke="#1f657c" stroke-width="2.9"/>
<line x1="922.3" y1="1137.47" x2="957.3" y2="1137.47" stroke="#1f657c" stroke-width="2.9"/>
<line x1="908.9" y1="1172.52" x2="946.7" y2="1172.52" stroke="#1f657c" stroke-width="2.9"/>
<circle cx="952.7" cy="1067.37" r="9.9" fill="#1f657c"/>
<circle cx="949.3" cy="1102.42" r="9.9" fill="#1f657c"/>
<circle cx="939.3" cy="1137.47" r="9.9" fill="#1f657c"/>
<circle cx="928" cy="1172.52" r="9.9" fill="#1f657c"/>
<line x1="949.3" y1="1192.6" x2="949.3" y2="1047.3" stroke="#000" stroke-width="2.8" stroke-dasharray="10.8 10.8"/>
<rect x="832.3" y="1047.3" width="235.9" height="145.3" fill="none" stroke="#262626" stroke-width="1.6"/>
<rect x="1083.6" y="1047.3" width="237.5" height="145.3" fill="#fff"/>
<line x1="1134.12" y1="1047.3" x2="1134.12" y2="1192.6" stroke="#e6e6e6" stroke-width="1.6"/>
<line x1="1213.07" y1="1047.3" x2="1213.07" y2="1192.6" stroke="#e6e6e6" stroke-width="1.6"/>
<line x1="1292.02" y1="1047.3" x2="1292.02" y2="1192.6" stroke="#e6e6e6" stroke-width="1.6"/>
<line x1="1083.6" y1="1067.37" x2="1321.1" y2="1067.37" stroke="#e6e6e6" stroke-width="2.7"/>
<line x1="1083.6" y1="1102.42" x2="1321.1" y2="1102.42" stroke="#e6e6e6" stroke-width="2.7"/>
<line x1="1083.6" y1="1137.47" x2="1321.1" y2="1137.47" stroke="#e6e6e6" stroke-width="2.7"/>
<line x1="1083.6" y1="1172.52" x2="1321.1" y2="1172.52" stroke="#e6e6e6" stroke-width="2.7"/>
<line x1="1094.65" y1="1047.3" x2="1094.65" y2="1192.6" stroke="#e6e6e6" stroke-width="2.7"/>
<line x1="1173.6" y1="1047.3" x2="1173.6" y2="1192.6" stroke="#e6e6e6" stroke-width="2.7"/>
<line x1="1252.55" y1="1047.3" x2="1252.55" y2="1192.6" stroke="#e6e6e6" stroke-width="2.7"/>
<line x1="1173.6" y1="1192.6" x2="1173.6" y2="1047.3" stroke="#000" stroke-width="2.8" stroke-dasharray="10.8 10.8"/>
<rect x="1083.6" y="1047.3" width="237.5" height="145.3" fill="none" stroke="#262626" stroke-width="1.6"/>
<rect x="1336.5" y="1047.3" width="235.9" height="145.3" fill="#fff"/>
<line x1="1346.25" y1="1047.3" x2="1346.25" y2="1192.6" stroke="#e6e6e6" stroke-width="1.6"/>
<line x1="1388.75" y1="1047.3" x2="1388.75" y2="1192.6" stroke="#e6e6e6" stroke-width="1.6"/>
<line x1="1431.25" y1="1047.3" x2="1431.25" y2="1192.6" stroke="#e6e6e6" stroke-width="1.6"/>
<line x1="1473.75" y1="1047.3" x2="1473.75" y2="1192.6" stroke="#e6e6e6" stroke-width="1.6"/>
<line x1="1516.25" y1="1047.3" x2="1516.25" y2="1192.6" stroke="#e6e6e6" stroke-width="1.6"/>
<line x1="1558.75" y1="1047.3" x2="1558.75" y2="1192.6" stroke="#e6e6e6" stroke-width="1.6"/>
<line x1="1336.5" y1="1067.37" x2="1572.4" y2="1067.37" stroke="#e6e6e6" stroke-width="2.7"/>
<line x1="1336.5" y1="1102.42" x2="1572.4" y2="1102.42" stroke="#e6e6e6" stroke-width="2.7"/>
<line x1="1336.5" y1="1137.47" x2="1572.4" y2="1137.47" stroke="#e6e6e6" stroke-width="2.7"/>
<line x1="1336.5" y1="1172.52" x2="1572.4" y2="1172.52" stroke="#e6e6e6" stroke-width="2.7"/>
<line x1="1367.5" y1="1047.3" x2="1367.5" y2="1192.6" stroke="#e6e6e6" stroke-width="2.7"/>
<line x1="1410" y1="1047.3" x2="1410" y2="1192.6" stroke="#e6e6e6" stroke-width="2.7"/>
<line x1="1452.5" y1="1047.3" x2="1452.5" y2="1192.6" stroke="#e6e6e6" stroke-width="2.7"/>
<line x1="1495" y1="1047.3" x2="1495" y2="1192.6" stroke="#e6e6e6" stroke-width="2.7"/>
<line x1="1537.5" y1="1047.3" x2="1537.5" y2="1192.6" stroke="#e6e6e6" stroke-width="2.7"/>
<line x1="1479.6" y1="1067.37" x2="1511.6" y2="1067.37" stroke="#1f657c" stroke-width="2.9"/>
<line x1="1474" y1="1102.42" x2="1508" y2="1102.42" stroke="#1f657c" stroke-width="2.9"/>
<line x1="1470.7" y1="1137.47" x2="1508" y2="1137.47" stroke="#1f657c" stroke-width="2.9"/>
<line x1="1450" y1="1172.52" x2="1490" y2="1172.52" stroke="#1f657c" stroke-width="2.9"/>
<circle cx="1496" cy="1067.37" r="9.9" fill="#1f657c"/>
<circle cx="1490.7" cy="1102.42" r="9.9" fill="#1f657c"/>
<circle cx="1489.7" cy="1137.47" r="9.9" fill="#1f657c"/>
<circle cx="1469.3" cy="1172.52" r="9.9" fill="#1f657c"/>
<line x1="1495" y1="1192.6" x2="1495" y2="1047.3" stroke="#000" stroke-width="2.8" stroke-dasharray="10.8 10.8"/>
<rect x="1336.5" y="1047.3" width="235.9" height="145.3" fill="none" stroke="#262626" stroke-width="1.6"/>
<line x1="572.2" y1="1067.37" x2="579.7" y2="1067.37" stroke="#262626" stroke-width="1.6"/>
<text x="566.8" y="1076.27" font-size="22.6" fill="#3a3a3a" text-anchor="end">Scadding (I vs 0)</text>
<line x1="572.2" y1="1102.42" x2="579.7" y2="1102.42" stroke="#262626" stroke-width="1.6"/>
<text x="566.8" y="1111.32" font-size="22.6" fill="#3a3a3a" text-anchor="end">Scadding (II vs 0)</text>
<line x1="572.2" y1="1137.47" x2="579.7" y2="1137.47" stroke="#262626" stroke-width="1.6"/>
<text x="566.8" y="1146.38" font-size="22.6" fill="#3a3a3a" text-anchor="end">Scadding (III vs 0)</text>
<line x1="572.2" y1="1172.52" x2="579.7" y2="1172.52" stroke="#262626" stroke-width="1.6"/>
<text x="566.8" y="1181.42" font-size="22.6" fill="#3a3a3a" text-anchor="end">Scadding (IV vs 0)</text>
<line x1="590.7" y1="1192.6" x2="590.7" y2="1200.1" stroke="#262626" stroke-width="1.6"/>
<text x="590.7" y="1221.8" font-size="22.6" fill="#3a3a3a" text-anchor="middle">-10</text>
<line x1="637.95" y1="1192.6" x2="637.95" y2="1200.1" stroke="#262626" stroke-width="1.6"/>
<text x="637.95" y="1221.8" font-size="22.6" fill="#3a3a3a" text-anchor="middle">-5</text>
<line x1="685.2" y1="1192.6" x2="685.2" y2="1200.1" stroke="#262626" stroke-width="1.6"/>
<text x="685.2" y="1221.8" font-size="22.6" fill="#3a3a3a" text-anchor="middle">0</text>
<line x1="732.45" y1="1192.6" x2="732.45" y2="1200.1" stroke="#262626" stroke-width="1.6"/>
<text x="732.45" y="1221.8" font-size="22.6" fill="#3a3a3a" text-anchor="middle">5</text>
<line x1="779.7" y1="1192.6" x2="779.7" y2="1200.1" stroke="#262626" stroke-width="1.6"/>
<text x="779.7" y="1221.8" font-size="22.6" fill="#3a3a3a" text-anchor="middle">10</text>
<line x1="880.7" y1="1192.6" x2="880.7" y2="1200.1" stroke="#262626" stroke-width="1.6"/>
<text x="880.7" y="1221.8" font-size="22.6" fill="#3a3a3a" text-anchor="middle">-1</text>
<line x1="949.3" y1="1192.6" x2="949.3" y2="1200.1" stroke="#262626" stroke-width="1.6"/>
<text x="949.3" y="1221.8" font-size="22.6" fill="#3a3a3a" text-anchor="middle">0</text>
<line x1="1017.9" y1="1192.6" x2="1017.9" y2="1200.1" stroke="#262626" stroke-width="1.6"/>
<text x="1017.9" y="1221.8" font-size="22.6" fill="#3a3a3a" text-anchor="middle">1</text>
<line x1="1094.65" y1="1192.6" x2="1094.65" y2="1200.1" stroke="#262626" stroke-width="1.6"/>
<text x="1094.65" y="1221.8" font-size="22.6" fill="#3a3a3a" text-anchor="middle">-1</text>
<line x1="1173.6" y1="1192.6" x2="1173.6" y2="1200.1" stroke="#262626" stroke-width="1.6"/>
<text x="1173.6" y="1221.8" font-size="22.6" fill="#3a3a3a" text-anchor="middle">0</text>
<line x1="1252.55" y1="1192.6" x2="1252.55" y2="1200.1" stroke="#262626" stroke-width="1.6"/>
<text x="1252.55" y="1221.8" font-size="22.6" fill="#3a3a3a" text-anchor="middle">1</text>
<line x1="1367.5" y1="1192.6" x2="1367.5" y2="1200.1" stroke="#262626" stroke-width="1.6"/>
<text x="1367.5" y="1221.8" font-size="22.6" fill="#3a3a3a" text-anchor="middle">-30</text>
<line x1="1410" y1="1192.6" x2="1410" y2="1200.1" stroke="#262626" stroke-width="1.6"/>
<text x="1410" y="1221.8" font-size="22.6" fill="#3a3a3a" text-anchor="middle">-20</text>
<line x1="1452.5" y1="1192.6" x2="1452.5" y2="1200.1" stroke="#262626" stroke-width="1.6"/>
<text x="1452.5" y="1221.8" font-size="22.6" fill="#3a3a3a" text-anchor="middle">-10</text>
<line x1="1495" y1="1192.6" x2="1495" y2="1200.1" stroke="#262626" stroke-width="1.6"/>
<text x="1495" y="1221.8" font-size="22.6" fill="#3a3a3a" text-anchor="middle">0</text>
<line x1="1537.5" y1="1192.6" x2="1537.5" y2="1200.1" stroke="#262626" stroke-width="1.6"/>
<text x="1537.5" y="1221.8" font-size="22.6" fill="#3a3a3a" text-anchor="middle">10</text>
<text x="1076" y="1254.6" font-size="28.25" fill="#000" text-anchor="middle">Mean Effect (95% CI)</text>
<text transform="translate(23.2,619) rotate(-90)" x="0" y="0" font-size="28.1" fill="#000" text-anchor="middle">CT Measure (Level vs Reference)</text>
<text x="1616.5" y="556" font-size="28.0" fill="#000">Significance</text>
<line x1="1637.4" y1="577.2" x2="1637.4" y2="612" stroke="#330042" stroke-width="2.9"/>
<circle cx="1637.4" cy="594.6" r="9.9" fill="#330042"/>
<text x="1673.8" y="602.9" font-size="22.6" fill="#000">p&lt;0.01</text>
<line x1="1637.4" y1="621.4" x2="1637.4" y2="656.2" stroke="#1f657c" stroke-width="2.9"/>
<circle cx="1637.4" cy="638.8" r="9.9" fill="#1f657c"/>
<text x="1673.8" y="647.1" font-size="22.6" fill="#000">0.01&lt;p&lt;0.05</text>
<line x1="1637.4" y1="665.6" x2="1637.4" y2="700.4" stroke="#67c83e" stroke-width="2.9"/>
<circle cx="1637.4" cy="683" r="9.9" fill="#67c83e"/>
<text x="1673.8" y="691.3" font-size="22.6" fill="#000">0.05&lt;p&lt;0.15</text>
</g>
</svg>
</div>
</body></html>
